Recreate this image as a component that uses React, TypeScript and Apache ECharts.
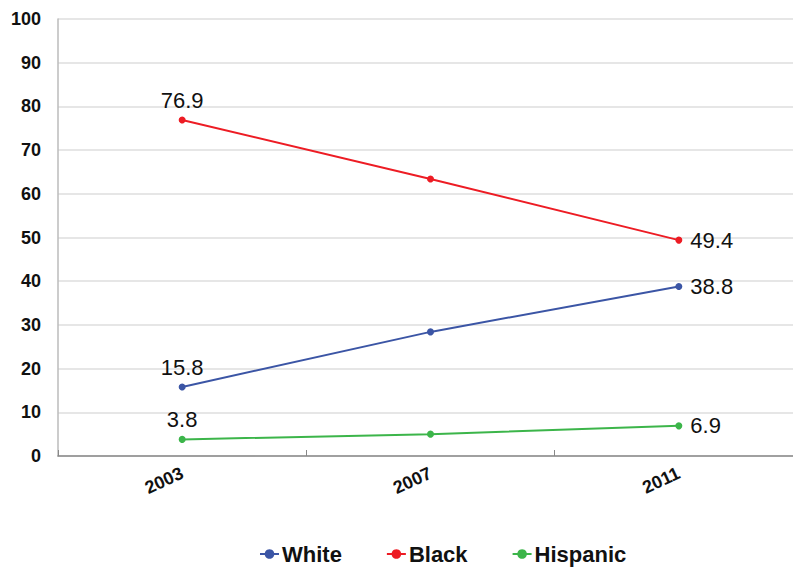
import React, { useEffect, useRef } from "react";
import * as echarts from "echarts";

const years = ["2003", "2007", "2011"];
const white = [15.8, 28.4, 38.8];
const black = [76.9, 63.4, 49.4];
const hispanic = [3.8, 5.0, 6.9];

const FONT = "'Liberation Sans', Arial, sans-serif";

function makeSeries(name: string, data: number[], color: string) {
  return {
    name,
    type: "line",
    data: data.map((v, i) => ({
      value: v,
      label: {
        show: i === 0 || i === data.length - 1,
        position: i === 0 ? "top" : "right",
        distance: i === 0 ? 5 : 8,
      },
    })),
    symbol: "circle",
    symbolSize: 7,
    lineStyle: { color, width: 2 },
    itemStyle: { color },
    label: {
      color: "#111",
      fontSize: 22,
      fontFamily: FONT,
      formatter: (p: any) => Number(p.value).toFixed(1),
    },
  };
}

export default function App() {
  const ref = useRef<HTMLDivElement>(null);
  useEffect(() => {
    if (!ref.current) return;
    const chart = echarts.init(ref.current, null, { renderer: "svg" });
    chart.setOption({
      animation: false,
      backgroundColor: "#ffffff",
      textStyle: { fontFamily: FONT },
      grid: {
        left: 58,
        top: 19,
        width: 745,
        height: 437,
        containLabel: false,
        outerBoundsMode: "none",
      },
      legend: {
        left: 259,
        top: 543,
        padding: 0,
        itemWidth: 19,
        itemHeight: 12,
        itemGap: 44,
        textStyle: {
          fontSize: 22,
          lineHeight: 18,
          fontWeight: "bold",
          color: "#111",
          fontFamily: FONT,
          padding: [0, 0, 0, -2],
        },
        data: ["White", "Black", "Hispanic"],
      },
      xAxis: {
        type: "category",
        data: years,
        boundaryGap: true,
        axisLine: { lineStyle: { color: "#888", width: 1.5 } },
        axisTick: { show: true, inside: true, length: 6, lineStyle: { color: "#888" } },
        axisLabel: {
          rotate: 25,
          margin: 16,
          fontSize: 18,
          fontWeight: "bold",
          color: "#111",
          fontFamily: FONT,
        },
        splitLine: { show: false },
      },
      yAxis: {
        type: "value",
        min: 0,
        max: 100,
        interval: 10,
        axisLine: { show: true, lineStyle: { color: "#bbb", width: 1.5 } },
        axisTick: { show: false },
        axisLabel: {
          margin: 17,
          fontSize: 18,
          fontWeight: "bold",
          color: "#111",
          fontFamily: FONT,
        },
        splitLine: { show: true, lineStyle: { color: "#dedede", width: 1.5 } },
      },
      series: [
        makeSeries("White", white, "#3b55a5"),
        makeSeries("Black", black, "#ed1c24"),
        makeSeries("Hispanic", hispanic, "#3cb54a"),
      ],
    });
    return () => chart.dispose();
  }, []);
  return (
    <div
      ref={ref}
      style={{ position: "fixed", left: 0, top: 0, width: 793, height: 567 }}
    />
  );
}
